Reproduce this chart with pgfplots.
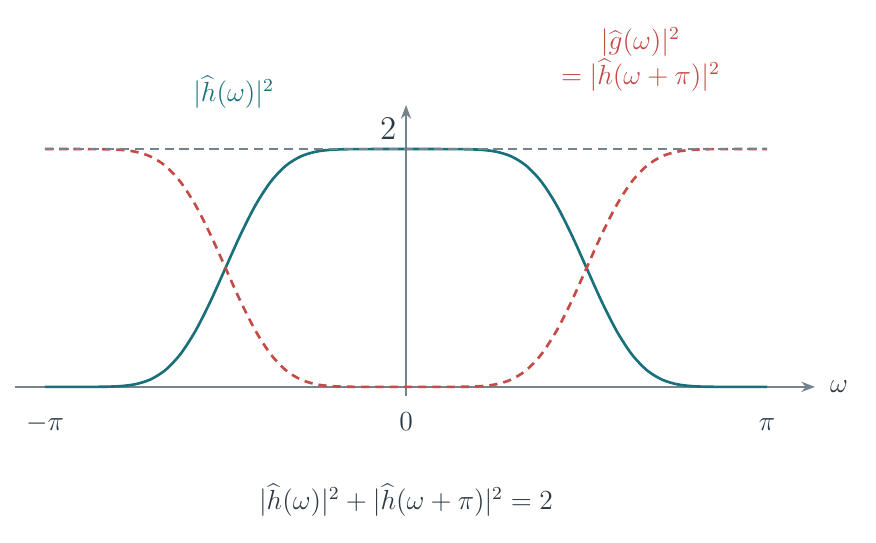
\documentclass[border=0pt]{standalone}
\usepackage{pgfplots}
\pgfplotsset{compat=1.18}
\usetikzlibrary{arrows.meta}

\definecolor{hteal}{HTML}{17707A}
\definecolor{gred}{HTML}{C44B46}
\definecolor{axgray}{HTML}{74838D}
\definecolor{txtdark}{HTML}{2B3945}

\begin{document}
\begin{tikzpicture}
	\begin{axis}[
		name=ax,
		scale only axis,
		width=348pt,
		height=126.6pt,
		axis lines=middle,
		axis line style={draw=axgray, line width=0.6pt, -{Stealth[length=6pt,width=4.5pt]}},
		xmin=-3.403, xmax=3.559,
		ymin=-0.078, ymax=2.37,
		xtick={-3.1416,0,3.1416},
		xticklabels={$-\pi$,$0$,$\pi$},
		hide obscured x ticks=false,
		ytick=\empty,
		major tick length=0pt,
		xticklabel style={text=txtdark, font=\large, anchor=base, yshift=-19pt},
		clip=false,
		]
		% |h(w)|^2, Daubechies-like, 2 near 0 and 0 near +-pi
		\addplot[color=hteal, line width=1.15pt, smooth] coordinates {
		(-3.1416, 0) (-3.0107, 0) (-2.8798, 0) (-2.7489, 0.00013) (-2.6180, 0.00120)
		(-2.4871, 0.00616) (-2.3562, 0.02220) (-2.2253, 0.06179) (-2.0944, 0.14111)
		(-1.9635, 0.27508) (-1.8326, 0.47025) (-1.7017, 0.71929) (-1.5708, 1.0)
		(-1.4399, 1.28071) (-1.3090, 1.52975) (-1.1781, 1.72492) (-1.0472, 1.85889)
		(-0.9163, 1.93821) (-0.7854, 1.97780) (-0.6545, 1.99384) (-0.5236, 1.99880)
		(-0.3927, 1.99987) (-0.2618, 2) (-0.1309, 2) (0, 2)
		(0.1309, 2) (0.2618, 2) (0.3927, 1.99987) (0.5236, 1.99880)
		(0.6545, 1.99384) (0.7854, 1.97780) (0.9163, 1.93821) (1.0472, 1.85889)
		(1.1781, 1.72492) (1.3090, 1.52975) (1.4399, 1.28071) (1.5708, 1.0)
		(1.7017, 0.71929) (1.8326, 0.47025) (1.9635, 0.27508) (2.0944, 0.14111)
		(2.2253, 0.06179) (2.3562, 0.02220) (2.4871, 0.00616) (2.6180, 0.00120)
		(2.7489, 0.00013) (2.8798, 0) (3.0107, 0) (3.1416, 0) };
		% |g(w)|^2 = |h(w+pi)|^2
		\addplot[color=gred, line width=1.15pt, smooth, dash pattern=on 3.6pt off 2.6pt] coordinates {
		(-3.1416, 2) (-3.0107, 2) (-2.8798, 2) (-2.7489, 1.99987) (-2.6180, 1.99880)
		(-2.4871, 1.99384) (-2.3562, 1.97780) (-2.2253, 1.93821) (-2.0944, 1.85889)
		(-1.9635, 1.72492) (-1.8326, 1.52975) (-1.7017, 1.28071) (-1.5708, 1.0)
		(-1.4399, 0.71929) (-1.3090, 0.47025) (-1.1781, 0.27508) (-1.0472, 0.14111)
		(-0.9163, 0.06179) (-0.7854, 0.02220) (-0.6545, 0.00616) (-0.5236, 0.00120)
		(-0.3927, 0.00013) (-0.2618, 0) (-0.1309, 0) (0, 0)
		(0.1309, 0) (0.2618, 0) (0.3927, 0.00013) (0.5236, 0.00120)
		(0.6545, 0.00616) (0.7854, 0.02220) (0.9163, 0.06179) (1.0472, 0.14111)
		(1.1781, 0.27508) (1.3090, 0.47025) (1.4399, 0.71929) (1.5708, 1.0)
		(1.7017, 1.28071) (1.8326, 1.52975) (1.9635, 1.72492) (2.0944, 1.85889)
		(2.2253, 1.93821) (2.3562, 1.97780) (2.4871, 1.99384) (2.6180, 1.99880)
		(2.7489, 1.99987) (2.8798, 2) (3.0107, 2) (3.1416, 2) };
		% level 2
		\addplot[color=axgray, line width=0.5pt, dash pattern=on 4pt off 2.5pt] coordinates {
		(-3.1416, 2) (3.1416, 2) };

		\node[text=txtdark, font=\Large, anchor=south east, inner sep=0pt, xshift=-4pt, yshift=4pt] at (axis cs:0,2) {$2$};
		\node[text=txtdark, font=\large, anchor=west] at (axis cs:3.62,0) {$\omega$};
		\node[text=hteal, font=\large] at (axis cs:-1.50,2.48) {$|\widehat{h}(\omega)|^2$};
		\node[text=gred, font=\large, align=center] at (axis cs:2.04,2.75)
			{$|\widehat{g}(\omega)|^2$\\$=|\widehat{h}(\omega+\pi)|^2$};
		\node[text=txtdark, font=\large] at (axis cs:0,-0.95)
			{$|\widehat{h}(\omega)|^2+|\widehat{h}(\omega+\pi)|^2=2$};
	\end{axis}
	\pgfresetboundingbox
	\path ([xshift=-6.5pt,yshift=-63.5pt]ax.south west) rectangle ([xshift=374.5pt,yshift=172.3pt]ax.south west);
\end{tikzpicture}
\end{document}
